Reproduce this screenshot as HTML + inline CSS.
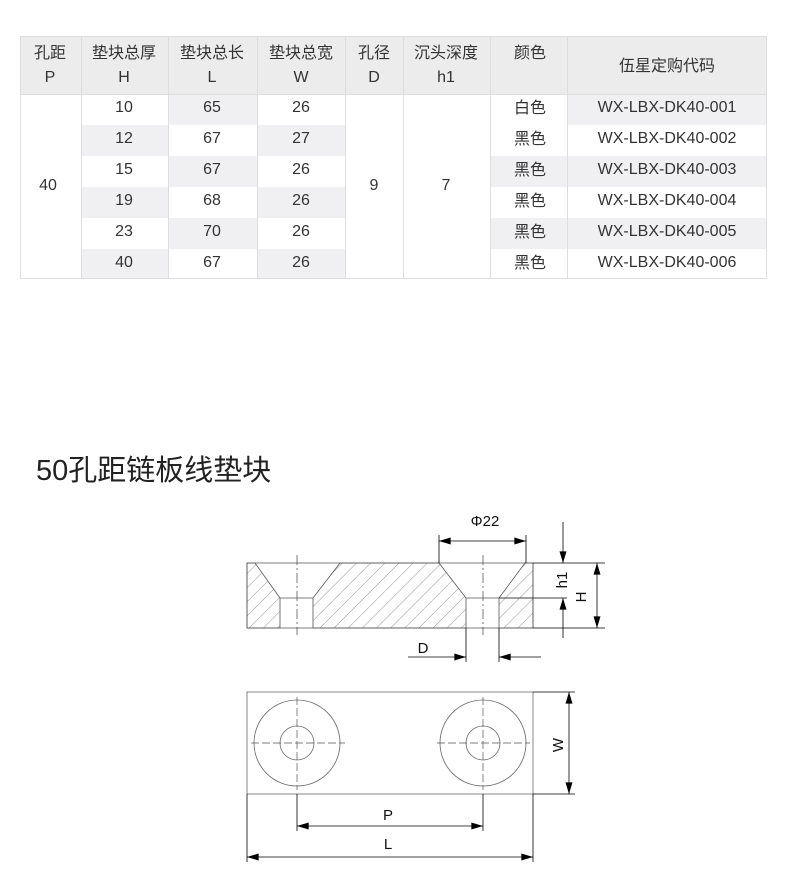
<!DOCTYPE html>
<html><head><meta charset="utf-8"><style>
html,body{margin:0;padding:0;background:#fff;}
svg{display:block;}
text{font-family:"Liberation Sans","Noto Sans CJK SC",sans-serif;}
</style></head><body>
<svg width="790" height="875" viewBox="0 0 790 875" xmlns="http://www.w3.org/2000/svg">
<defs>
<pattern id="h" patternUnits="userSpaceOnUse" width="10" height="10" patternTransform="rotate(45)">
<line x1="0" y1="0" x2="0" y2="10" stroke="#666" stroke-width="0.7"/>
</pattern>
<marker id="a" viewBox="0 0 10 6" refX="10" refY="3" markerWidth="18" markerHeight="7" markerUnits="userSpaceOnUse" orient="auto-start-reverse"><path d="M0,0 L10,3 L0,6z" fill="#000"/></marker>
</defs>
<rect x="20" y="36" width="747" height="58" fill="#ececec"/>
<g fill="#f0f0f2">
<rect x="168" y="94" width="89" height="31"/><rect x="567" y="94" width="200" height="31"/>
<rect x="81" y="125" width="87" height="31"/><rect x="257" y="125" width="88" height="31"/>
<rect x="168" y="156" width="89" height="31"/><rect x="490" y="156" width="277" height="31"/>
<rect x="81" y="187" width="87" height="31"/><rect x="257" y="187" width="88" height="31"/>
<rect x="168" y="218" width="89" height="31"/><rect x="490" y="218" width="277" height="31"/>
<rect x="81" y="249" width="87" height="30"/><rect x="257" y="249" width="88" height="30"/>
</g>
<g stroke="#dedede" stroke-width="1" fill="none">
<rect x="20.5" y="36.5" width="746" height="242"/>
<line x1="81.5" y1="36" x2="81.5" y2="279"/><line x1="168.5" y1="36" x2="168.5" y2="279"/>
<line x1="257.5" y1="36" x2="257.5" y2="279"/><line x1="345.5" y1="36" x2="345.5" y2="279"/>
<line x1="403.5" y1="36" x2="403.5" y2="279"/><line x1="490.5" y1="36" x2="490.5" y2="279"/>
<line x1="567.5" y1="36" x2="567.5" y2="279"/>
<line x1="20" y1="94.5" x2="767" y2="94.5"/>
</g>
<g font-size="16" fill="#333" text-anchor="middle">
<text x="50" y="58">孔距</text><text x="50" y="82">P</text>
<text x="124" y="58">垫块总厚</text><text x="124" y="82">H</text>
<text x="212" y="58">垫块总长</text><text x="212" y="82">L</text>
<text x="301" y="58">垫块总宽</text><text x="301" y="82">W</text>
<text x="374" y="58">孔径</text><text x="374" y="82">D</text>
<text x="446" y="58">沉头深度</text><text x="446" y="82">h1</text>
<text x="530" y="58">颜色</text>
<text x="667" y="71">伍星定购代码</text>
<text x="48" y="190">40</text><text x="374" y="190">9</text><text x="446" y="190">7</text>
<text x="124" y="112">10</text><text x="212" y="112">65</text><text x="301" y="112">26</text>
<text x="124" y="143">12</text><text x="212" y="143">67</text><text x="301" y="143">27</text>
<text x="124" y="174">15</text><text x="212" y="174">67</text><text x="301" y="174">26</text>
<text x="124" y="205">19</text><text x="212" y="205">68</text><text x="301" y="205">26</text>
<text x="124" y="236">23</text><text x="212" y="236">70</text><text x="301" y="236">26</text>
<text x="124" y="267">40</text><text x="212" y="267">67</text><text x="301" y="267">26</text>
<text x="530" y="113">白色</text><text x="667" y="112">WX-LBX-DK40-001</text>
<text x="530" y="144">黑色</text><text x="667" y="143">WX-LBX-DK40-002</text>
<text x="530" y="175">黑色</text><text x="667" y="174">WX-LBX-DK40-003</text>
<text x="530" y="206">黑色</text><text x="667" y="205">WX-LBX-DK40-004</text>
<text x="530" y="237">黑色</text><text x="667" y="236">WX-LBX-DK40-005</text>
<text x="530" y="268">黑色</text><text x="667" y="267">WX-LBX-DK40-006</text>
</g>
<text x="36" y="480" font-size="29" fill="#222">50孔距链板线垫块</text>
<g stroke="#555" stroke-width="0.8">
<path d="M247,563 L255,563 L280,598 L280,628 L247,628Z" fill="url(#h)"/>
<path d="M313,628 L313,598 L340,563 L439,563 L466,598 L466,628Z" fill="url(#h)"/>
<path d="M499,628 L499,598 L525,563 L533,563 L533,628Z" fill="url(#h)"/>
<path d="M247,563 H533 V628 H247Z M280,598 H313 M466,598 H499" fill="none"/>
</g>
<g stroke="#444" stroke-width="0.7" stroke-dasharray="10,3,2,3">
<line x1="297" y1="555" x2="297" y2="635"/><line x1="483" y1="555" x2="483" y2="635"/>
</g>
<g stroke="#000" stroke-width="0.8" fill="none">
<line x1="439" y1="535" x2="439" y2="563"/><line x1="526" y1="535" x2="526" y2="563"/>
<line x1="439" y1="541" x2="526" y2="541" marker-start="url(#a)" marker-end="url(#a)"/>
<line x1="533" y1="563" x2="605" y2="563"/><line x1="533" y1="628" x2="605" y2="628"/>
<line x1="499" y1="598" x2="567" y2="598"/>
<line x1="563" y1="522" x2="563" y2="563" marker-end="url(#a)"/>
<line x1="563" y1="638" x2="563" y2="598" marker-end="url(#a)"/>
<line x1="597" y1="563" x2="597" y2="628" marker-start="url(#a)" marker-end="url(#a)"/>
<line x1="466" y1="628" x2="466" y2="662"/><line x1="499" y1="628" x2="499" y2="662"/>
<line x1="408" y1="657" x2="466" y2="657" marker-end="url(#a)"/>
<line x1="541" y1="657" x2="499" y2="657" marker-end="url(#a)"/>
</g>
<g font-size="15" fill="#111">
<text x="485" y="526" text-anchor="middle">Φ22</text>
<text x="423" y="653" text-anchor="middle">D</text>
<text transform="translate(567,580) rotate(-90)" text-anchor="middle">h1</text>
<text transform="translate(586,597) rotate(-90)" text-anchor="middle">H</text>
<text transform="translate(563,745) rotate(-90)" text-anchor="middle">W</text>
<text x="388" y="820" text-anchor="middle">P</text>
<text x="388" y="849" text-anchor="middle">L</text>
</g>
<g stroke="#666" stroke-width="0.8" fill="none">
<rect x="247" y="692" width="286" height="102"/>
<circle cx="297" cy="743" r="43"/><circle cx="297" cy="743" r="17"/>
<circle cx="483" cy="743" r="43"/><circle cx="483" cy="743" r="17"/>
</g>
<g stroke="#555" stroke-width="0.7" stroke-dasharray="8,3">
<line x1="251" y1="743" x2="345" y2="743"/><line x1="297" y1="697" x2="297" y2="790"/>
<line x1="437" y1="743" x2="530" y2="743"/><line x1="483" y1="697" x2="483" y2="790"/>
</g>
<g stroke="#000" stroke-width="0.8" fill="none">
<line x1="533" y1="692" x2="575" y2="692"/><line x1="533" y1="794" x2="575" y2="794"/>
<line x1="569" y1="692" x2="569" y2="794" marker-start="url(#a)" marker-end="url(#a)"/>
<line x1="297" y1="794" x2="297" y2="831"/><line x1="483" y1="794" x2="483" y2="831"/>
<line x1="297" y1="826" x2="483" y2="826" marker-start="url(#a)" marker-end="url(#a)"/>
<line x1="247" y1="794" x2="247" y2="862"/><line x1="533" y1="794" x2="533" y2="862"/>
<line x1="247" y1="857" x2="533" y2="857" marker-start="url(#a)" marker-end="url(#a)"/>
</g>
</svg>
</body></html>
